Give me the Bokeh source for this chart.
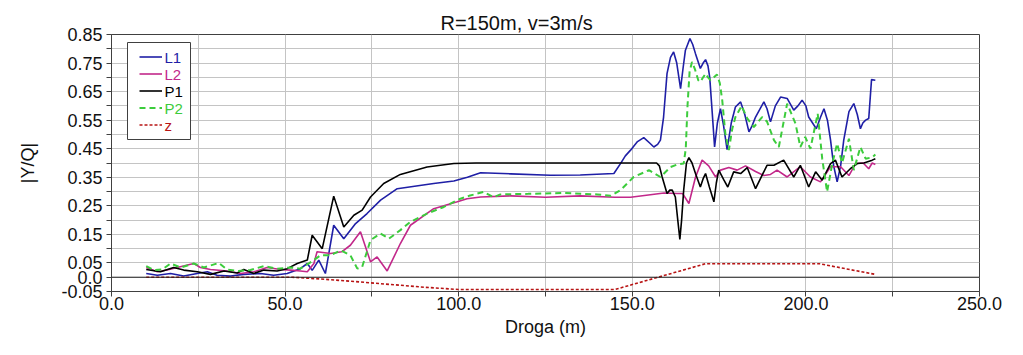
from bokeh.plotting import figure
from bokeh.models import FixedTicker, Span, Legend, LegendItem, Label, Range1d, BoxAnnotation
from bokeh.embed import file_html
from bokeh.resources import INLINE

# ---------------- data ----------------
title_text = "R=150m, v=3m/s"
x_label = "Droga (m)"
y_label = "|Y/Q|"
names = ["L1", "L2", "P1", "P2", "z"]
colors = ["#1f1fa6", "#c2288a", "#000000", "#3ccc3c", "#b81414"]

l1_x = [10, 13.2, 17, 20.8, 24.7, 27.6, 30.4, 34.3, 38.1, 42.9, 46.7, 50.6, 54.4, 56.4, 57.8, 59.7,
        61.6, 64.0, 66.9, 70.3, 73.6, 77.5, 82.3, 92.8, 98.6, 102.5, 106.3, 115, 126.4, 135, 144.7,
        146.6, 148, 149.5, 151.5, 153.3, 155, 156.2, 157.3, 158.1, 159, 160, 161, 161.9, 162.8,
        163.9, 164.6, 165.3, 166.6, 167.4, 168.2, 169.6, 170.4, 171.1, 171.8, 172.3, 173.0, 173.7,
        174.5, 175.4, 176.3, 177.3, 178.5, 179.7, 181.2, 182.4, 183.6, 184.5, 185.5, 187.9, 188.8,
        189.8, 191.2, 192.7, 194.6, 196.5, 197.7, 198.9, 200, 200.8, 203, 204.2, 205.2, 206.2,
        207.1, 208, 209, 210, 210.9, 212.4, 213.8, 214.8, 215.7, 216.4, 217.2, 218.1, 218.9, 220]
l1_y = [0.013, 0.007, 0.013, 0.004, 0.013, 0.019, 0.007, 0.004, 0.010, 0.013, 0.007, 0.013, 0.030,
        0.048, 0.024, 0.060, 0.013, 0.182, 0.135, 0.188, 0.223, 0.270, 0.310, 0.328, 0.337, 0.350,
        0.366, 0.362, 0.357, 0.358, 0.363,
        0.398, 0.425, 0.445, 0.475, 0.489, 0.470, 0.456, 0.465, 0.480, 0.560, 0.713, 0.770, 0.789,
        0.750, 0.660, 0.730, 0.795, 0.836, 0.815, 0.783, 0.731, 0.750, 0.762, 0.740, 0.700, 0.580,
        0.456, 0.540, 0.590, 0.530, 0.447, 0.540, 0.596, 0.614, 0.570, 0.509, 0.530, 0.561, 0.614,
        0.590, 0.544, 0.600, 0.631, 0.626, 0.585, 0.600, 0.620, 0.600, 0.561, 0.520, 0.560, 0.590,
        0.550, 0.480, 0.390, 0.334, 0.390, 0.480, 0.580, 0.608, 0.570, 0.520, 0.540, 0.550, 0.556,
        0.692, 0.690]

l2_x = [10, 13.2, 16, 18.9, 21, 23.7, 25.6, 28.5, 33.3, 37.2, 41, 44.8, 48.7, 51.6, 54.4, 56.4, 58.3,
        59.2, 63.1, 66.3, 68.8, 71.7, 74.6, 76.5, 79.4, 83.2, 86.1, 92.8, 99.6, 102.4, 106.3, 115,
        125, 135, 145, 149.5, 155.2, 159.1, 162.9, 164.5, 166.3, 168.2, 170.1, 172, 174, 175.4,
        177.8, 180.2, 182.6, 185.5, 187.9, 189.8, 191.7, 194.6, 198.4, 201.3, 204.2, 207.1, 210,
        212.4, 214.3, 216.5, 218.1, 219.1, 220]
l2_y = [0.034, 0.019, 0.025, 0.034, 0.040, 0.048, 0.034, 0.027, 0.022, 0.013, 0.019, 0.034, 0.027,
        0.025, 0.022, 0.019, 0.048, 0.089, 0.083, 0.089, 0.112, 0.159, 0.054, 0.071, 0.022, 0.118,
        0.182, 0.240, 0.264, 0.275, 0.281, 0.285, 0.280, 0.285, 0.280, 0.280, 0.289, 0.295, 0.293,
        0.293, 0.258, 0.350, 0.410, 0.390, 0.351, 0.375, 0.384, 0.375, 0.390, 0.370, 0.356, 0.360,
        0.375, 0.351, 0.387, 0.351, 0.334, 0.387, 0.387, 0.356, 0.398, 0.400, 0.380, 0.400, 0.395]

p1_x = [10, 14.1, 17.9, 20.8, 24.7, 28.5, 32.4, 36.2, 38.1, 41, 43.9, 47.7, 50.6, 53.5, 56.4, 57.8,
        60.7, 64.0, 66.9, 69.8, 72.2, 74.6, 78.4, 83.2, 90.9, 98.6, 105, 157, 157.8, 158.6, 160,
        160.8, 161.5, 162.4, 163.1, 163.7, 164.2, 164.8, 165.6, 166.3, 167.2, 168.2, 169.6, 170.4,
        171.1, 172.2, 173.5, 174.2, 174.9, 176.4, 177.5, 179.2, 181.2, 183.1, 185.5, 188.8, 190.8,
        193.6, 196.5, 198.4, 200.8, 202.8, 204.7, 207.1, 208.5, 210.4, 212.8, 214.8, 216.7, 219.1,
        220]
p1_y = [0.027, 0.019, 0.034, 0.025, 0.019, 0.010, 0.022, 0.015, 0.027, 0.013, 0.025, 0.022, 0.030,
        0.048, 0.060, 0.147, 0.100, 0.284, 0.176, 0.217, 0.235, 0.281, 0.328, 0.360, 0.386, 0.398,
        0.400, 0.400, 0.390, 0.351, 0.293, 0.305, 0.305, 0.281, 0.200, 0.132, 0.200, 0.305, 0.400,
        0.419, 0.400, 0.363, 0.316, 0.345, 0.363, 0.316, 0.264, 0.330, 0.375, 0.340, 0.316, 0.369,
        0.363, 0.384, 0.310, 0.392, 0.392, 0.410, 0.351, 0.392, 0.316, 0.369, 0.340, 0.398, 0.410,
        0.351, 0.380, 0.398, 0.400, 0.410, 0.415]

p2_x = [10, 12.2, 14.6, 17, 19.9, 23.7, 26.6, 30.9, 33.3, 36.2, 40, 43.9, 47.7, 51.6, 54.4, 58.3,
        60.2, 63.1, 66, 68.8, 70.8, 72.2, 74.6, 77.5, 79.9, 83.2, 86.1, 90.9, 95.7, 100.5, 103,
        107.2, 110, 112, 120, 130, 140, 143.8, 146.6, 150.4, 154.8, 158.1, 161, 163, 164.8, 165.4,
        165.9, 166.5, 167.2, 168, 169, 169.6, 170.4, 171.1, 171.8, 172.5, 173.5, 174.4, 175.2,
        175.9, 176.8, 177.8, 178.8, 179.7, 181.5, 183.1, 185, 187.4, 188.8, 190.8, 192.2, 194.6,
        197, 198.4, 199.8, 201.3, 203.4, 204.7, 206.1, 207.6, 209, 210.4, 212.4, 213.8, 215.7,
        217.2, 219.1, 220]
p2_y = [0.039, 0.025, 0.027, 0.048, 0.034, 0.048, 0.034, 0.050, 0.027, 0.022, 0.025, 0.039, 0.030,
        0.034, 0.030, 0.060, 0.077, 0.077, 0.094, 0.077, 0.030, 0.036, 0.130, 0.153, 0.135, 0.165,
        0.194, 0.223, 0.246, 0.275, 0.285, 0.299, 0.280, 0.290, 0.292, 0.295, 0.290, 0.285, 0.305,
        0.351, 0.375, 0.351, 0.386, 0.395, 0.398, 0.450, 0.600, 0.720, 0.754, 0.730, 0.690, 0.684,
        0.700, 0.713, 0.700, 0.690, 0.700, 0.710, 0.680, 0.620, 0.503, 0.445, 0.520, 0.561, 0.600,
        0.556, 0.526, 0.561, 0.545, 0.480, 0.456, 0.608, 0.538, 0.456, 0.491, 0.450, 0.573, 0.415,
        0.299, 0.398, 0.468, 0.400, 0.485, 0.375, 0.456, 0.415, 0.420, 0.430]

z_x = [10, 52, 60, 70, 80, 90, 100, 145, 171, 204, 220]
z_y = [0.0, 0.0, -0.006, -0.015, -0.025, -0.035, -0.043, -0.043, 0.047, 0.047, 0.010]

series_x = [l1_x, l2_x, p1_x, p2_x, z_x]
series_y = [l1_y, l2_y, p1_y, p2_y, z_y]
dashes = ["solid", "solid", "solid", "6 4", "3 2"]
widths = [1.6, 1.6, 1.6, 2.0, 1.6]

x_major = [0, 50, 100, 150, 200, 250]
x_major_labels = ["0.0", "50.0", "100.0", "150.0", "200.0", "250.0"]
x_minor = [25, 75, 125, 175, 225]
x_grid = [0, 25, 50, 75, 100, 125, 150, 175, 200, 225, 250]

y_major = [-0.05, 0.0, 0.05, 0.15, 0.25, 0.35, 0.45, 0.55, 0.65, 0.75, 0.85]
y_major_labels = ["-0.05", "0.0", "0.05", "0.15", "0.25", "0.35", "0.45", "0.55", "0.65", "0.75", "0.85"]
y_minor = [0.1, 0.2, 0.3, 0.4, 0.5, 0.6, 0.7, 0.8]
y_grid = [-0.05, 0.0, 0.05, 0.1, 0.15, 0.2, 0.25, 0.3, 0.35, 0.4, 0.45, 0.5, 0.55, 0.6, 0.65,
          0.7, 0.75, 0.8, 0.85]

X0, X1 = 0, 250
Y0, Y1 = -0.05, 0.85

# ---------------- figure ----------------
FONT = "Liberation Sans"
W, H = 1007, 347
BL, BR, BT, BB = 111, 28, 34, 56
FW, FH = W - BL - BR, H - BT - BB   # frame size in px


def fx(px):   # frame px from left -> data x
    return X0 + px * (X1 - X0) / FW


def fy(py):   # frame px from top -> data y
    return Y1 - py * (Y1 - Y0) / FH


p = figure(width=W, height=H, output_backend="svg", toolbar_location=None,
           x_range=Range1d(X0, X1), y_range=Range1d(Y0, Y1),
           min_border_left=BL, min_border_right=BR, min_border_top=BT, min_border_bottom=BB)
p.background_fill_color = "white"
p.border_fill_color = "white"
p.outline_line_color = "#404040"
p.outline_line_width = 1

p.title.text = title_text
p.title.text_font = FONT
p.title.text_font_size = "20px"
p.title.text_font_style = "normal"
p.title.text_color = "#111111"
p.title.align = "left"
p.title.offset = 329
p.title.standoff = 2

for ax in (p.xaxis[0], p.yaxis[0]):
    ax.major_label_text_font = FONT
    ax.major_label_text_font_size = "18px"
    ax.major_label_text_color = "#111111"
    ax.axis_label_text_font = FONT
    ax.axis_label_text_font_size = "18px"
    ax.axis_label_text_font_style = "normal"
    ax.axis_label_text_color = "#111111"
    ax.axis_line_color = "#404040"
    ax.major_tick_line_color = "#404040"
    ax.minor_tick_line_color = "#404040"
    ax.major_tick_in = 0
    ax.major_tick_out = 5
    ax.minor_tick_in = 0
    ax.minor_tick_out = 5

p.xaxis.ticker = FixedTicker(ticks=x_major, minor_ticks=x_minor)
p.xaxis.major_label_overrides = dict(zip(x_major, x_major_labels))
p.xaxis.axis_label = x_label
p.xaxis.major_label_standoff = 0
p.xaxis.axis_label_standoff = 4

p.yaxis.ticker = FixedTicker(ticks=y_major, minor_ticks=y_minor)
p.yaxis.major_label_overrides = dict(zip(y_major, y_major_labels))
p.yaxis.axis_label = y_label
p.yaxis.major_label_standoff = 4
p.yaxis.axis_label_standoff = 20

p.xgrid.ticker = FixedTicker(ticks=x_grid)
p.ygrid.ticker = FixedTicker(ticks=y_grid)
p.xgrid.grid_line_color = "#c4c4c4"
p.ygrid.grid_line_color = "#c4c4c4"
p.xgrid.grid_line_width = 1
p.ygrid.grid_line_width = 1

p.add_layout(Span(location=0, dimension="width", line_color="#202020", line_width=1))

renderers = []
for xs, ys, c, d, w in zip(series_x, series_y, colors, dashes, widths):
    r = p.line(xs, ys, line_color=c, line_width=w, line_dash=d)
    renderers.append(r)

# legend: white box, glyph samples, labels in series colours
LEG_PAD, GLYPH_W, ROW_H, ROW_SP, STANDOFF, LAB_W = 7, 23, 15, 2, 2, 20
box_left, box_top, box_w = 16, 8, 63
inner_shift = 5
leg_h = 2 * LEG_PAD + len(names) * ROW_H + (len(names) - 1) * ROW_SP

p.add_layout(BoxAnnotation(left=fx(box_left), right=fx(box_left + box_w),
                           top=fy(box_top), bottom=fy(box_top + leg_h),
                           fill_color="white", fill_alpha=1,
                           line_color="#404040", line_width=1, line_alpha=1,
                           level="annotation"))

legend = Legend(items=[LegendItem(label=n, renderers=[r]) for n, r in zip(names, renderers)],
                location=(box_left + inner_shift, FH - box_top - leg_h),
                padding=LEG_PAD, spacing=ROW_SP, margin=0,
                glyph_width=GLYPH_W, glyph_height=ROW_H, label_height=ROW_H,
                label_width=LAB_W, label_standoff=STANDOFF,
                label_text_font=FONT, label_text_font_size="9px", label_text_alpha=0,
                border_line_alpha=0, background_fill_alpha=0)
p.add_layout(legend)

for i, (n, c) in enumerate(zip(names, colors)):
    cy = box_top + LEG_PAD + i * (ROW_H + ROW_SP) + ROW_H / 2
    p.add_layout(Label(x=fx(box_left + inner_shift + LEG_PAD + GLYPH_W + STANDOFF), y=fy(cy),
                       text=n, text_color=c,
                       text_font=FONT, text_font_size="15px", text_baseline="middle",
                       text_align="left", level="overlay"))

open("out.html", "w").write(file_html(p, INLINE))
